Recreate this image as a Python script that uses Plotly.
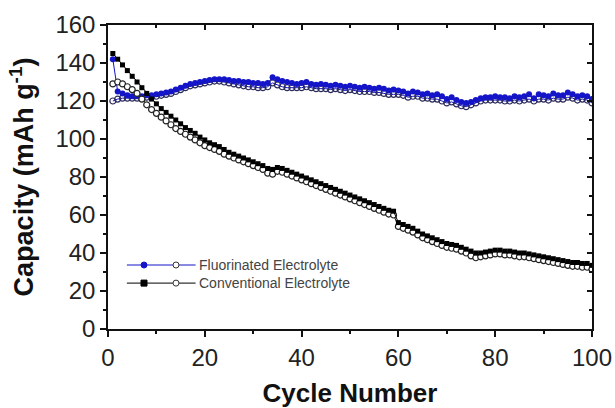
import plotly.graph_objects as go

cycles = list(range(1, 101))

fluor_charge = [142, 125, 124, 123, 122.5, 122.5, 122.5, 123, 123, 123.5,
                124, 124.5, 125, 126, 127, 128, 129, 129.5, 130, 130.5,
                131, 131.5, 131.5, 131.5, 131, 130.5, 130.5, 130, 130, 129.5,
                129.5, 129, 129.5, 132.5, 131.5, 130.5, 130, 129.5, 129, 129.5,
                130, 129, 128.5, 129, 128.5, 128, 128.5, 128, 127.5, 128,
                127.5, 127, 127.5, 127, 126.5, 127, 126.5, 125.5, 126, 125.5,
                125, 124, 125, 124.5, 123.5, 124, 123, 123.5, 122.5, 121,
                122, 120.5, 119.5, 119, 119.5, 120.5, 121.5, 122, 122, 122.5,
                122, 122, 121.5, 122.5, 122, 122.5, 123.5, 121.5, 123.5, 123,
                122.5, 124, 123, 123, 124.5, 123.5, 122.5, 123, 122.5, 121]

fluor_discharge = [120, 121, 121.5, 121.5, 121.5, 121.5, 121.5, 122, 122, 122.5,
                   123, 123.5, 124, 125, 126, 127, 128, 128.5, 129, 129.5,
                   130, 130.5, 130.5, 130, 129.5, 129, 128.5, 128, 127.5, 127.5,
                   127, 127, 127.5, 129.5, 128.5, 127.5, 127, 127, 127, 127,
                   127.5, 127, 126.5, 126.5, 126.5, 126, 126.5, 126, 125.5, 126,
                   125.5, 125, 125, 125, 124.5, 124.5, 124, 123.5, 123.5, 123.5,
                   123, 122, 122.5, 122.5, 121.5, 121.5, 121, 121, 120, 119,
                   119.5, 118.5, 117.5, 117, 118, 119, 120, 120.5, 120.5, 120.5,
                   120.5, 120, 120, 120.5, 120, 120.5, 121, 120, 121, 121,
                   120.5, 121.5, 121, 121, 122, 121.5, 120.5, 121, 120.5, 119]

conv_charge = [145, 142, 139, 136, 133, 130, 127, 124, 121, 118.5,
               116, 114, 112, 110, 108, 106, 104.5, 103, 101, 99.5,
               98, 97, 96, 94.5, 93, 92, 91, 90, 89, 88,
               87, 86, 84.5, 84, 85, 84.5, 83.5, 82.5, 81.5, 80.5,
               79.5, 78.5, 77.5, 76.5, 75.5, 74.5, 73.5, 72.5, 71.5, 70.5,
               69.5, 68.5, 67.5, 66.5, 65.5, 64.5, 63.5, 62.5, 62, 56,
               55, 54, 53, 51.5, 50, 49, 48, 47, 46, 45,
               44.5, 44, 43, 42, 41, 40, 40, 40.5, 41, 41.5,
               41.5, 41, 41, 40.5, 40, 40, 39.5, 39, 38.5, 38,
               37.5, 37, 36.5, 36, 35.5, 35, 35, 34.5, 34.5, 33.5]

conv_discharge = [129, 130, 129, 127.5, 126, 124, 121, 118, 115.5, 113.5,
                  111.5, 109.5, 107.5, 105.5, 104, 102.5, 101, 99.5, 98, 96.5,
                  95.5, 94.5, 93.5, 92, 91, 90, 89, 88, 87, 86,
                  85, 84, 82, 81.5, 83, 82.5, 81.5, 80.5, 79.5, 78.5,
                  77.5, 76.5, 75.5, 74.5, 73.5, 72.5, 71.5, 70.5, 69.5, 68.5,
                  67.5, 66.5, 65.5, 64.5, 63.5, 62.5, 61.5, 60.5, 60, 54,
                  53, 52, 51, 49.5, 48, 47, 46, 45, 44, 43,
                  42.5, 42, 41, 40, 38.5, 37.5, 38, 38.5, 39, 39.5,
                  39.5, 39, 39, 38.5, 38, 38, 37.5, 37, 36.5, 36,
                  35.5, 35, 34.5, 34, 33.5, 33, 33, 32.5, 32.5, 31.5]

x_ticks = [0, 20, 40, 60, 80, 100]
y_ticks = [0, 20, 40, 60, 80, 100, 120, 140, 160]

legend_labels = ["Fluorinated Electrolyte", "Conventional Electrolyte"]

BLUE = "#1414c8"
FONT = "Liberation Sans, Arial, sans-serif"

fig = go.Figure()

fig.add_trace(go.Scatter(
    x=cycles, y=fluor_discharge, mode="lines+markers",
    line=dict(color=BLUE, width=1),
    marker=dict(symbol="circle-open", size=6, color="#2c2c5c", line=dict(width=1.2)),
    showlegend=False))
fig.add_trace(go.Scatter(
    x=cycles, y=fluor_charge, mode="lines+markers",
    line=dict(color=BLUE, width=1),
    marker=dict(symbol="circle", size=6, color=BLUE),
    showlegend=False))
fig.add_trace(go.Scatter(
    x=cycles, y=conv_discharge, mode="lines+markers",
    line=dict(color="#111111", width=1),
    marker=dict(symbol="circle", size=6, color="white", line=dict(color="#222222", width=1.2)),
    showlegend=False))
fig.add_trace(go.Scatter(
    x=cycles, y=conv_charge, mode="lines+markers",
    line=dict(color="#000000", width=1),
    marker=dict(symbol="square", size=5, color="#000000"),
    showlegend=False))

# helper trace so the mirrored (top / right) axes are drawn
fig.add_trace(go.Scatter(x=[None], y=[None], xaxis="x2", yaxis="y2", showlegend=False,
                         hoverinfo="skip"))

# manual legend (line - filled marker - open marker - text)
rows = [(0.2105, BLUE, "circle", legend_labels[0]),
        (0.151, "#000000", "square", legend_labels[1])]
for yy, col, sym, lab in rows:
    fig.add_shape(type="line", xref="paper", yref="paper", x0=0.039, x1=0.181, y0=yy, y1=yy,
                  line=dict(color=col, width=1))
    fig.add_shape(type="circle" if sym == "circle" else "rect", xref="paper", yref="paper",
                  xsizemode="pixel", ysizemode="pixel", xanchor=0.0744, yanchor=yy,
                  x0=-3, x1=3, y0=-3, y1=3, line=dict(color=col, width=1), fillcolor=col)
    fig.add_shape(type="circle", xref="paper", yref="paper",
                  xsizemode="pixel", ysizemode="pixel", xanchor=0.1405, yanchor=yy,
                  x0=-3, x1=3, y0=-3, y1=3, line=dict(color="#333333", width=1), fillcolor="white")
    fig.add_annotation(x=0.184, y=yy, xref="paper", yref="paper", text=lab, showarrow=False,
                       xanchor="left", yanchor="middle",
                       font=dict(family=FONT, size=14, color="#444444"))

axis_common = dict(showgrid=False, zeroline=False, showline=True, linecolor="#111111",
                   linewidth=1.5, tickcolor="#111111", tickwidth=1.5, automargin=False)

fig.update_layout(
    width=615, height=408,
    margin=dict(l=108, r=23, t=25, b=79),
    paper_bgcolor="white", plot_bgcolor="white",
    font=dict(family=FONT, color="#222222"),
    xaxis=dict(range=[0, 100], tickvals=x_ticks, ticks="outside", ticklen=6,
               minor=dict(dtick=10, ticks="outside", ticklen=3, tickcolor="#111111"),
               tickfont=dict(size=24, color="#222222"),
               title=dict(text="<b>Cycle Number</b>", font=dict(size=26, color="#111111"),
                          standoff=24),
               mirror=True, **axis_common),
    yaxis=dict(range=[0, 160], tickvals=y_ticks, ticks="outside", ticklen=6,
               minor=dict(dtick=10, ticks="outside", ticklen=3, tickcolor="#111111"),
               tickfont=dict(size=24, color="#222222"),
               title=dict(text="<b>Capacity (mAh g<sup>-1</sup>)</b>",
                          font=dict(size=27, color="#111111"), standoff=14),
               mirror=True, **axis_common),
    xaxis2=dict(range=[0, 100], overlaying="x", side="top", anchor="y2",
                tickvals=x_ticks, ticks="inside", ticklen=5, showticklabels=False,
                minor=dict(dtick=10, ticks="inside", ticklen=3, tickcolor="#111111"),
                **axis_common),
    yaxis2=dict(range=[0, 160], overlaying="y", side="right", anchor="x2",
                tickvals=y_ticks, ticks="inside", ticklen=5, showticklabels=False,
                minor=dict(dtick=10, ticks="inside", ticklen=3, tickcolor="#111111"),
                **axis_common),
)

fig.write_html("out.html")
